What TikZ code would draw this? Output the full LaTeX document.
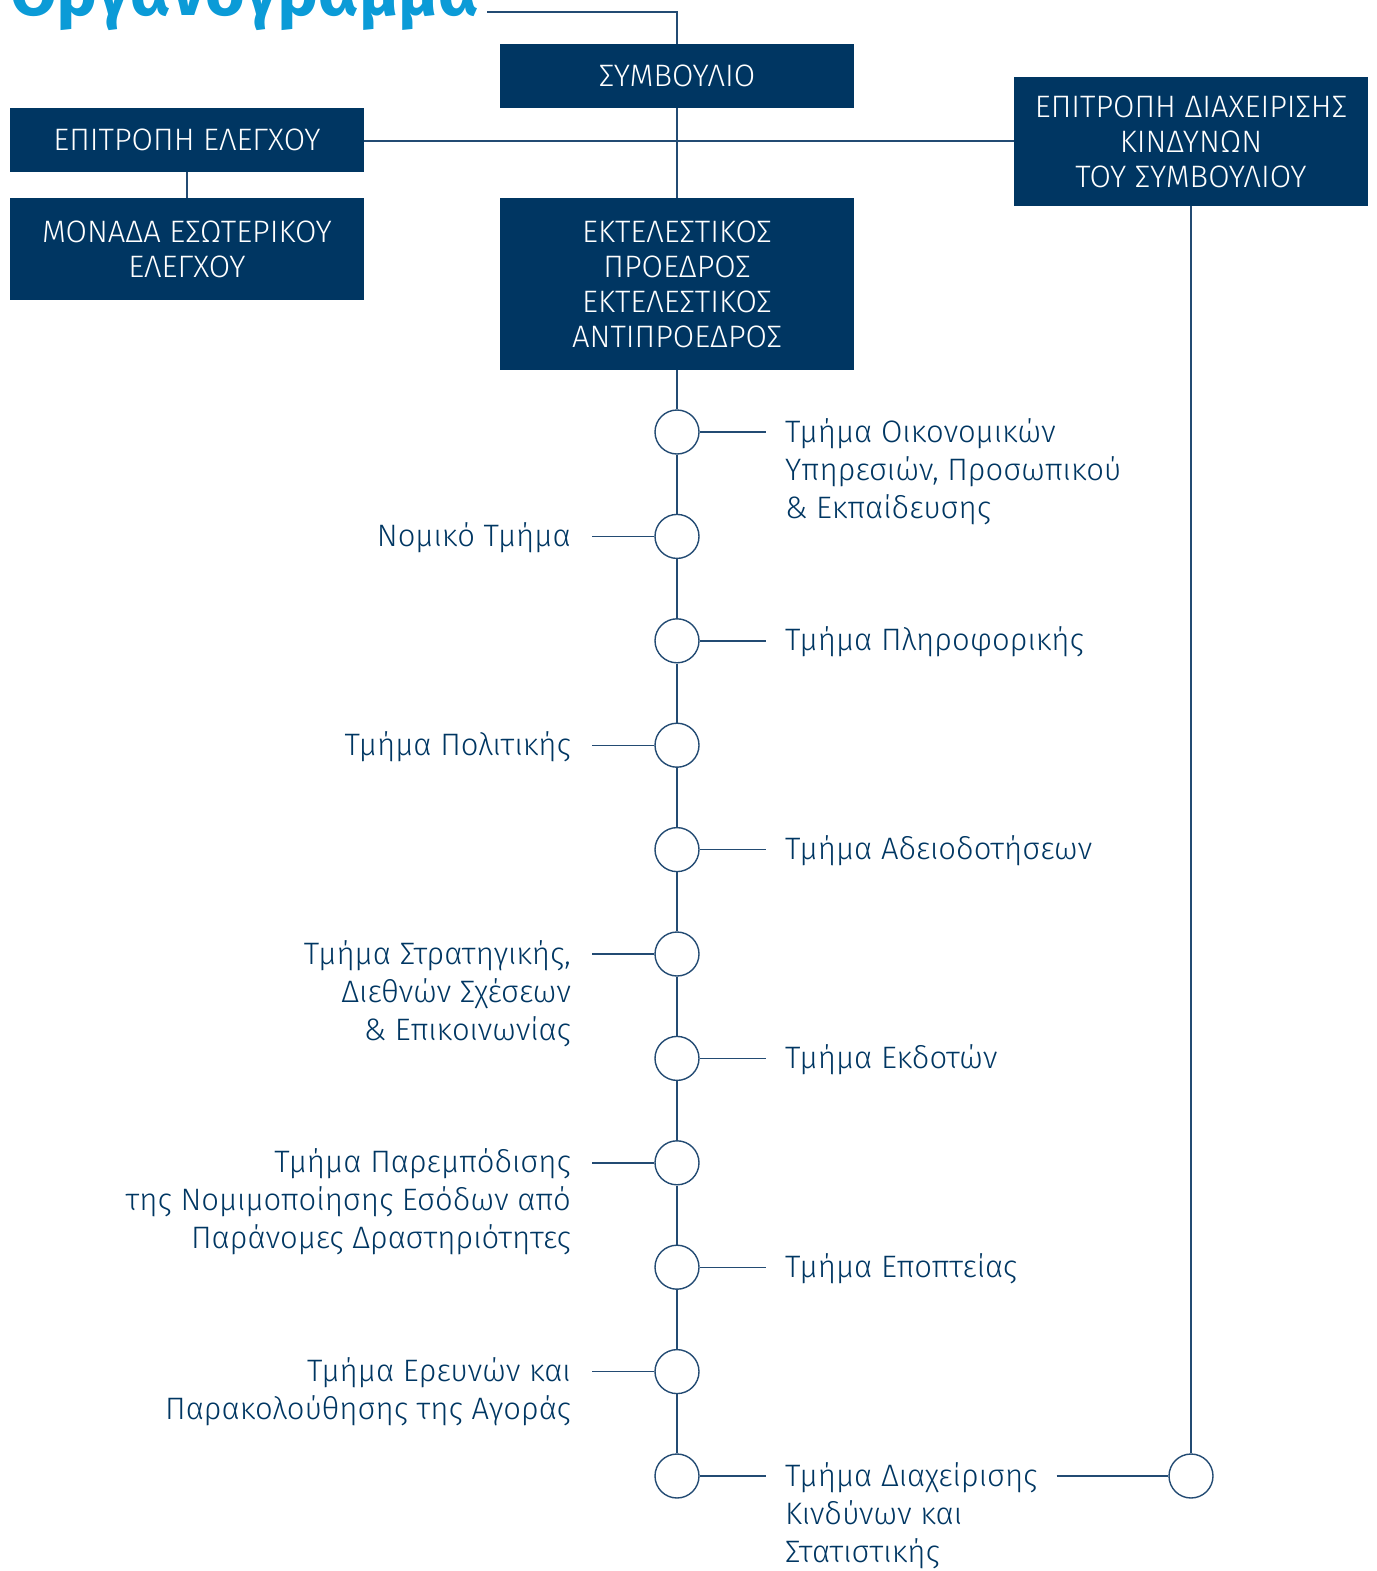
\documentclass[tikz,border=0pt]{standalone}
\usepackage{fontspec}
\IfFontExistsTF{Fira Sans Book}{%
  \setmainfont{Fira Sans Book}[BoldFont={Fira Sans Bold}]}{%
  \IfFontExistsTF{Fira Sans Light}{%
    \setmainfont{Fira Sans Light}[BoldFont={Fira Sans Bold}]}{%
    \setmainfont{Fira Sans}}}
\definecolor{navy}{HTML}{003662}
\definecolor{lnavy}{HTML}{234B73}
\definecolor{tblue}{HTML}{0B9BD7}
\begin{document}
\begin{tikzpicture}[x=1pt,y=-1pt,
  box/.style={fill=navy,text=white,font=\fontsize{31}{35}\selectfont,align=center,minimum width=354pt,inner sep=0pt},
  dot/.style={circle,draw=lnavy,fill=white,line width=1.4pt,minimum size=44pt,inner sep=0pt},
  conn/.style={draw=lnavy,line width=1.4pt},
  rlab/.style={anchor=base west,text=navy,font=\fontsize{31}{38}\selectfont,align=left,inner xsep=19pt,inner ysep=0pt},
  llab/.style={anchor=base east,text=navy,font=\fontsize{31}{38}\selectfont,align=right,inner xsep=21pt,inner ysep=0pt}]
\useasboundingbox (0,0) rectangle (1376,1571);
\clip (0,0) rectangle (1376,1571);
\node[anchor=base west,text=tblue,font=\fontsize{68}{68}\selectfont\bfseries,inner sep=0pt] (title) at (10,16) {Οργανόγραμμα};
\coordinate (tend) at (487,12);
\node[box,minimum height=64pt] (sym) at (677,76) {ΣΥΜΒΟΥΛΙΟ};
\node[box,minimum height=64pt] (ele) at (187,140) {ΕΠΙΤΡΟΠΗ ΕΛΕΓΧΟΥ};
\node[box,minimum height=102pt] (mon) at (187,249) {ΜΟΝΑΔΑ ΕΣΩΤΕΡΙΚΟΥ\\ΕΛΕΓΧΟΥ};
\node[box,minimum height=129pt] (kin) at (1191,141.5) {ΕΠΙΤΡΟΠΗ ΔΙΑΧΕΙΡΙΣΗΣ\\ΚΙΝΔΥΝΩΝ\\ΤΟΥ ΣΥΜΒΟΥΛΙΟΥ};
\node[box,minimum height=172pt] (ekt) at (677,284) {ΕΚΤΕΛΕΣΤΙΚΟΣ\\ΠΡΟΕΔΡΟΣ\\ΕΚΤΕΛΕΣΤΙΚΟΣ\\ΑΝΤΙΠΡΟΕΔΡΟΣ};
\foreach \i in {1,...,11} {
  \node[dot] (c\i) at (677,{432+104.4*(\i-1)}) {};
}
\node[dot] (cr) at (1191,1476) {};
% labels (base anchor = baseline of last line)
\node[rlab] (l1) at (766,518) {Τμήμα Οικονομικών\\Υπηρεσιών, Προσωπικού\\\& Εκπαίδευσης};
\node[llab] (l2) at (592,546.4) {Νομικό Τμήμα};
\node[rlab] (l3) at (766,650.8) {Τμήμα Πληροφορικής};
\node[llab] (l4) at (592,755.2) {Τμήμα Πολιτικής};
\node[rlab] (l5) at (766,859.6) {Τμήμα Αδειοδοτήσεων};
\node[llab] (l6) at (592,1040) {Τμήμα Στρατηγικής,\\Διεθνών Σχέσεων\\\& Επικοινωνίας};
\node[rlab] (l7) at (766,1068.4) {Τμήμα Εκδοτών};
\node[llab] (l8) at (592,1248.8) {Τμήμα Παρεμπόδισης\\της Νομιμοποίησης Εσόδων από\\Παράνομες Δραστηριότητες};
\node[rlab] (l9) at (766,1277.2) {Τμήμα Εποπτείας};
\node[llab] (l10) at (592,1419.6) {Τμήμα Ερευνών και\\Παρακολούθησης της Αγοράς};
\node[rlab] (l11) at (766,1562) {Τμήμα Διαχείρισης\\Κινδύνων και\\Στατιστικής};
% connectors
\draw[conn] (tend) -| (sym.north);
\draw[conn] (sym.south) -- (ekt.north);
\draw[conn] (ele.east |- 0,141) -- (kin.west |- 0,141);
\draw[conn] (ele.south) -- (mon.north);
\draw[conn] (ekt.south) -- (c1.north);
\foreach \i [evaluate=\i as \j using int(\i+1)] in {1,...,10} {
  \draw[conn] (c\i.south) -- (c\j.north);
}
\draw[conn] (cr.north |- kin.south) -- (cr.north);
\foreach \i in {1,3,5,7,9,11} {
  \draw[conn] (c\i.east) -- (c\i.east -| l\i.west);
}
\foreach \i in {2,4,6,8,10} {
  \draw[conn] (c\i.west) -- (c\i.west -| l\i.east);
}
\draw[conn] (l11.east |- cr.west) -- (cr.west);
\end{tikzpicture}
\end{document}
